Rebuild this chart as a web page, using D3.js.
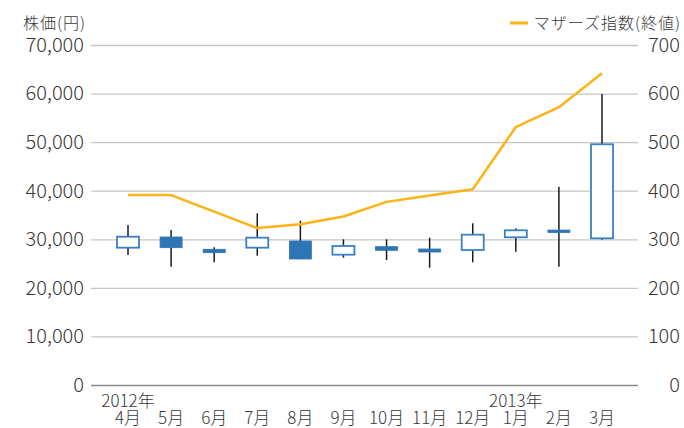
<!DOCTYPE html>
<html>
<head>
<meta charset="utf-8">
<script src="https://cdn.jsdelivr.net/npm/d3@7"></script>
<style>
  body { margin: 0; background: #fff; }
  svg text { font-family: "Noto Sans CJK JP", "Noto Sans", sans-serif; fill: #383838; }
</style>
</head>
<body>
<div id="chart"></div>
<script>
// data
var months = ["4月", "5月", "6月", "7月", "8月", "9月", "10月", "11月", "12月", "1月", "2月", "3月"];
var openVals  = [28270, 30470, 27940, 28270, 29650, 26830, 28480, 28000, 27790, 30410, 31900, 30200];
var closeVals = [30530, 28270, 27240, 30330, 25940, 28620, 27730, 27380, 30950, 31850, 31400, 49560];
var highVals  = [32940, 31910, 28350, 35350, 33830, 30000, 30000, 30330, 33290, 32260, 40830, 59910];
var lowVals   = [26760, 24360, 25260, 26620, 25940, 26210, 25730, 24150, 25260, 27450, 24360, 29900];
var mothers   = [391, 391, 357, 323, 331, 347, 377, 390, 403, 531, 572, 642];
var leftTicks = [0, 10000, 20000, 30000, 40000, 50000, 60000, 70000];
var rightTicks = [0, 100, 200, 300, 400, 500, 600, 700];
var yearLabels = [{ month: "4月", text: "2012年" }, { month: "1月", text: "2013年" }];

var width = 684, height = 428;
var plotLeft = 91, plotRight = 638, plotTop = 45, plotBottom = 385;

var svg = d3.select("#chart").append("svg")
    .attr("width", width)
    .attr("height", height);

var x = d3.scalePoint().domain(months).range([128, 602]);
var y = d3.scaleLinear().domain([0, 70000]).range([plotBottom, plotTop]);
var y2 = d3.scaleLinear().domain([0, 700]).range([plotBottom, plotTop]);

var boxW = 22;
var blue = "#2e75b6";
var orange = "#fbb416";

// left axis + gridlines
var leftAxis = svg.append("g")
    .attr("transform", "translate(" + plotLeft + ",0)")
    .call(d3.axisLeft(y)
        .tickValues(leftTicks)
        .tickSize(-(plotRight - plotLeft))
        .tickPadding(7)
        .tickFormat(d3.format(",")));
leftAxis.select(".domain").remove();
leftAxis.selectAll("line")
    .attr("stroke", function(d) { return d === 0 ? "#8a8a8a" : "#c6c6c0"; })
    .attr("stroke-width", function(d) { return d === 0 ? 1.5 : 1.3; });
leftAxis.selectAll("text")
    .style("font-size", "20px")
    .style("font-weight", 300);

// right axis labels
var rightAxis = svg.append("g")
    .attr("transform", "translate(" + plotRight + ",0)")
    .call(d3.axisRight(y2).tickValues(rightTicks).tickSize(0).tickPadding(0));
rightAxis.select(".domain").remove();
rightAxis.selectAll("text")
    .attr("x", 42)
    .attr("text-anchor", "end")
    .style("font-size", "20px")
    .style("font-weight", 300);

// candlesticks
var candles = months.map(function(m, i) {
  return { m: m, o: openVals[i], c: closeVals[i], h: highVals[i], l: lowVals[i] };
});

var g = svg.append("g");
g.selectAll(".wick")
    .data(candles).enter()
    .append("line")
    .attr("class", "wick")
    .attr("x1", function(d) { return x(d.m); })
    .attr("x2", function(d) { return x(d.m); })
    .attr("y1", function(d) { return y(d.h); })
    .attr("y2", function(d) { return y(d.l); })
    .attr("stroke", "#1a1a1a")
    .attr("stroke-width", 1.5);

g.selectAll(".box")
    .data(candles).enter()
    .append("rect")
    .attr("class", "box")
    .attr("x", function(d) { return x(d.m) - boxW / 2; })
    .attr("width", boxW)
    .attr("y", function(d) { return y(Math.max(d.o, d.c)); })
    .attr("height", function(d) { return Math.max(1, Math.abs(y(d.o) - y(d.c))); })
    .attr("fill", function(d) { return d.c >= d.o ? "#fff" : blue; })
    .attr("stroke", function(d) { return d.c >= d.o ? "#3a80c6" : blue; })
    .attr("stroke-width", function(d) { return d.c >= d.o ? 1.8 : 0.8; });

// mothers index line
var line = d3.line()
    .x(function(d, i) { return x(months[i]); })
    .y(function(d) { return y2(d); });

svg.append("path")
    .datum(mothers)
    .attr("d", line)
    .attr("fill", "none")
    .attr("stroke", orange)
    .attr("stroke-width", 2.5)
    .attr("stroke-linejoin", "round");

// x labels
svg.append("g").selectAll("text")
    .data(months).enter()
    .append("text")
    .attr("x", function(d) { return x(d); })
    .attr("y", 424)
    .attr("text-anchor", "middle")
    .style("font-size", "17px")
    .style("font-weight", 300)
    .text(function(d) { return d; });

svg.append("g").selectAll("text")
    .data(yearLabels).enter()
    .append("text")
    .attr("x", function(d) { return x(d.month); })
    .attr("y", 407)
    .attr("text-anchor", "middle")
    .style("font-size", "17px")
    .style("font-weight", 300)
    .text(function(d) { return d.text; });

// axis titles / legend
svg.append("text")
    .attr("x", 23)
    .attr("y", 29)
    .style("font-size", "16px")
    .style("font-weight", 300)
    .style("letter-spacing", "1px")
    .text("株価(円)");

svg.append("line")
    .attr("x1", 510).attr("x2", 528)
    .attr("y1", 23).attr("y2", 23)
    .attr("stroke", orange)
    .attr("stroke-width", 3);

svg.append("text")
    .attr("x", 681)
    .attr("y", 29)
    .attr("text-anchor", "end")
    .style("font-size", "16px")
    .style("font-weight", 300)
    .style("letter-spacing", "1px")
    .text("マザーズ指数(終値)");
</script>
</body>
</html>
